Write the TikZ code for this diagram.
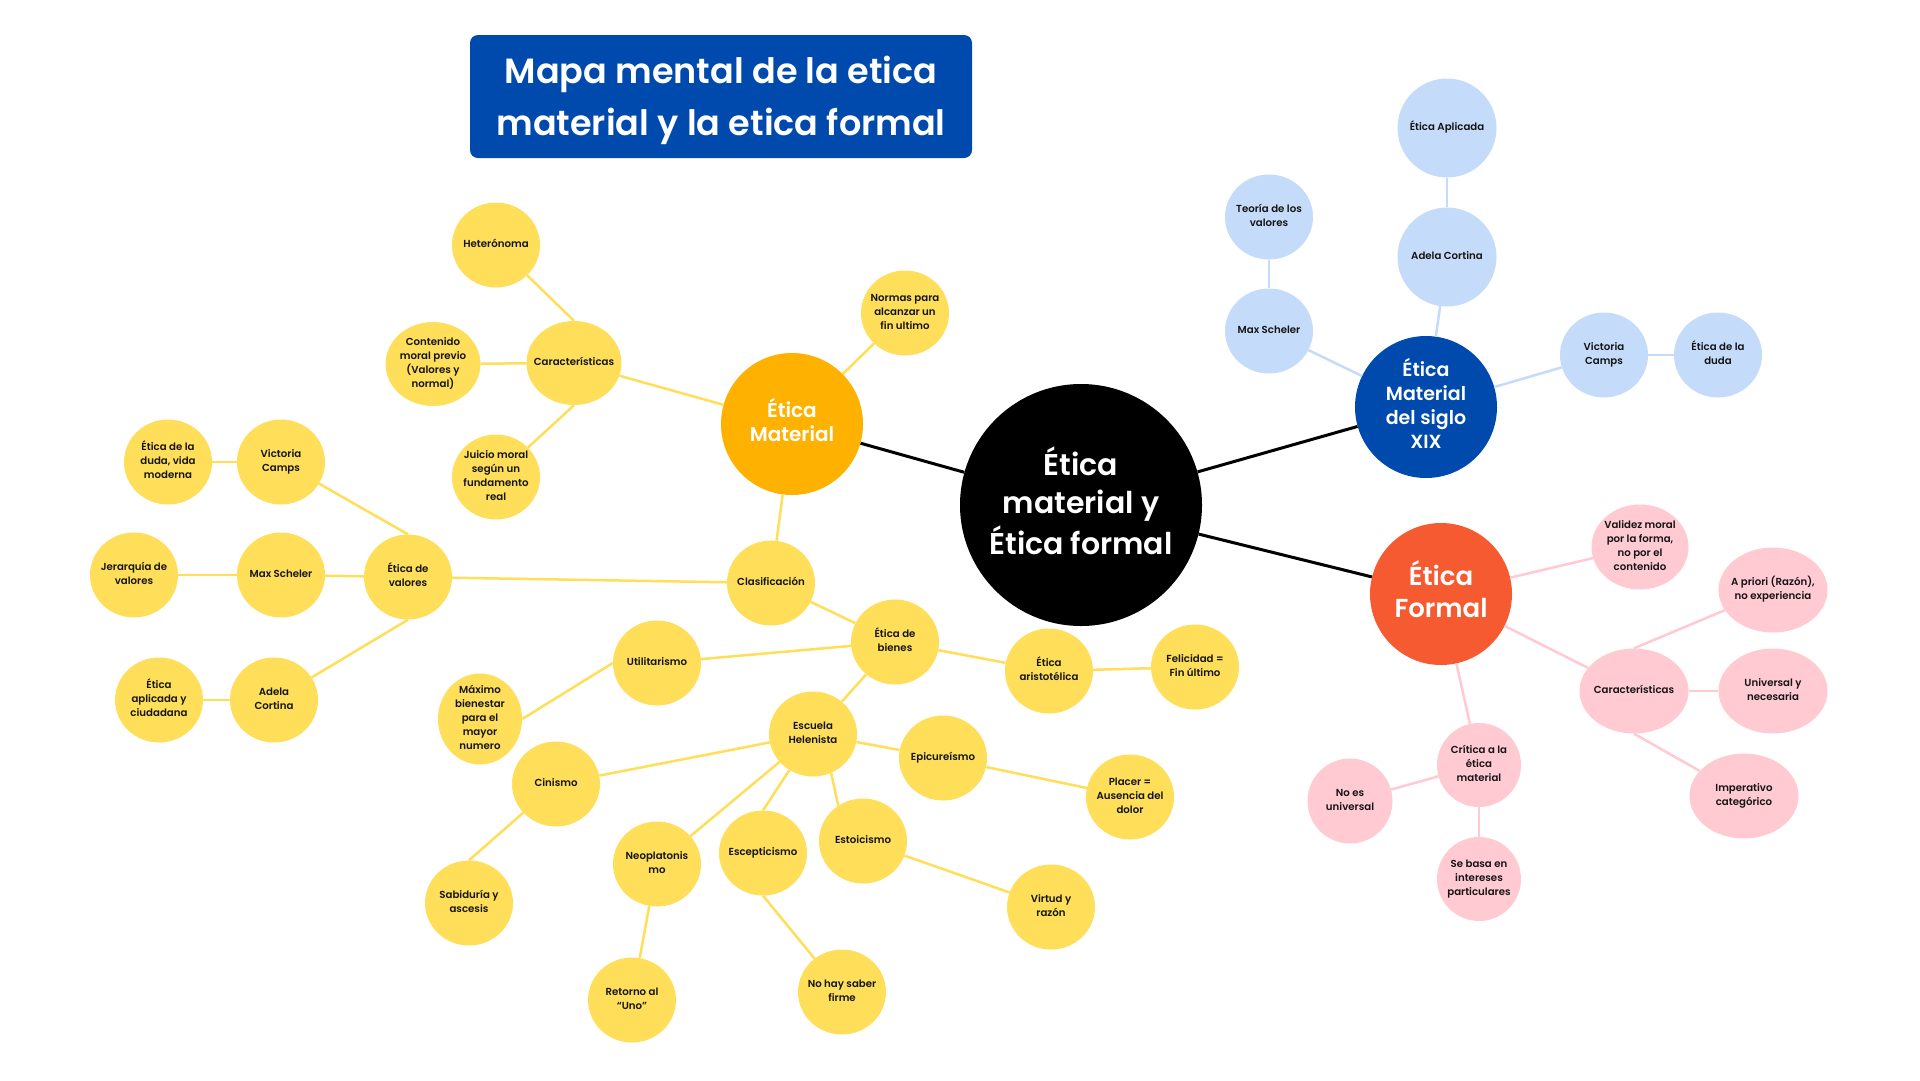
\documentclass[tikz,border=0pt]{standalone}
\usepackage{fontspec}
\setmainfont{Poppins}[BoldFont={Poppins SemiBold}]
\usetikzlibrary{shapes.geometric}
\definecolor{yel}{HTML}{FFDE59}
\definecolor{orm}{HTML}{FFB100}
\definecolor{rform}{HTML}{F55A31}
\definecolor{dblue}{HTML}{004AAD}
\definecolor{lblue}{HTML}{C4DCFA}
\definecolor{pnk}{HTML}{FFCAD2}
\definecolor{ink}{HTML}{151515}
\newcommand{\zt}[1]{\smash{\makebox[0pt]{\raisebox{-.25em}{\begin{tabular}{@{}c@{}}#1\end{tabular}}}}}
\tikzset{
  bub/.style={ellipse, inner sep=0pt, font=\fontsize{10.2}{14}\selectfont\bfseries, text=ink, minimum width=88pt, minimum height=85pt},
  ybub/.style={bub, fill=yel},
  bbub/.style={bub, fill=lblue},
  pbub/.style={bub, fill=pnk},
  bigc/.style={circle, inner sep=0pt, text=white, minimum size=142pt},
  yl/.style={draw=yel, line width=2.5pt},
  bl/.style={draw=lblue, line width=2.5pt},
  pl/.style={draw=pnk, line width=2.5pt},
  kl/.style={draw=black, line width=3pt}
}
\begin{document}
\begin{tikzpicture}[x=1pt,y=-1pt]
\useasboundingbox (0,0) rectangle (1920,1080);
\fill[white] (0,0) rectangle (1920,1080);

% title
\node[fill=dblue, rounded corners=8pt, minimum width=502pt, minimum height=123pt, inner sep=0pt, text=white, font=\fontsize{35}{52}\selectfont\bfseries] (title) at (721,96.5) {\zt{Mapa mental de la etica\\material y la etica formal}};

% main nodes
\node[circle, inner sep=0pt, fill=black, text=white, minimum size=242pt, font=\fontsize{30}{38}\selectfont\bfseries] (c) at (1081,505) {\zt{Ética\\material y\\Ética formal}};
\node[bigc, fill=orm, font=\fontsize{20}{24}\selectfont\bfseries] (em) at (792,424) {\zt{Ética\\Material}};
\node[bigc, fill=dblue, font=\fontsize{19}{24}\selectfont\bfseries] (xix) at (1426,407) {\zt{Ética\\Material\\del siglo\\XIX}};
\node[bigc, fill=rform, font=\fontsize{26}{32}\selectfont\bfseries] (ef) at (1441,594) {\zt{Ética\\Formal}};

% yellow
\node[ybub] (het) at (496,245) {\zt{Heterónoma}};
\node[ybub, minimum width=95pt, minimum height=84pt] (car) at (574,363) {\zt{Características}};
\node[ybub, minimum width=95pt, minimum height=84pt] (cont) at (433,364) {\zt{Contenido\\moral previo\\(Valores y\\normal)}};
\node[ybub] (jui) at (496,477) {\zt{Juicio moral\\según un\\fundamento\\real}};
\node[ybub] (nor) at (905,313) {\zt{Normas para\\alcanzar un\\fin ultimo}};
\node[ybub] (cla) at (771,583) {\zt{Clasificación}};
\node[ybub] (ev) at (408,577) {\zt{Ética de\\valores}};
\node[ybub] (vc) at (281,462) {\zt{Victoria\\Camps}};
\node[ybub] (edv) at (168,462) {\zt{Ética de la\\duda, vida\\moderna}};
\node[ybub] (ms) at (281,575) {\zt{Max Scheler}};
\node[ybub] (jer) at (134,575) {\zt{Jerarquía de\\valores}};
\node[ybub] (ac) at (274,700) {\zt{Adela\\Cortina}};
\node[ybub] (eac) at (159,700) {\zt{Ética\\aplicada y\\ciudadana}};
\node[ybub] (eb) at (895,642) {\zt{Ética de\\bienes}};
\node[ybub] (uti) at (657,663) {\zt{Utilitarismo}};
\node[ybub, minimum width=84pt, minimum height=91pt] (mbi) at (480,719) {\zt{Máximo\\bienestar\\para el\\mayor\\numero}};
\node[ybub] (ari) at (1049,671) {\zt{Ética\\aristotélica}};
\node[ybub] (fel) at (1195,667) {\zt{Felicidad =\\Fin último}};
\node[ybub] (eh) at (813,734) {\zt{Escuela\\Helenista}};
\node[ybub] (cin) at (556,784) {\zt{Cinismo}};
\node[ybub] (sab) at (469,903) {\zt{Sabiduría y\\ascesis}};
\node[ybub] (neo) at (657,864) {\zt{Neoplatonis\\mo}};
\node[ybub] (ret) at (632,1000) {\zt{Retorno al\\“Uno”}};
\node[ybub] (esc) at (763,853) {\zt{Escepticismo}};
\node[ybub] (noh) at (842,992) {\zt{No hay saber\\firme}};
\node[ybub] (est) at (863,841) {\zt{Estoicismo}};
\node[ybub] (vir) at (1051,907) {\zt{Virtud y\\razón}};
\node[ybub] (epi) at (943,758) {\zt{Epicureísmo}};
\node[ybub] (pla) at (1130,797) {\zt{Placer =\\Ausencia del\\dolor}};

% blue
\node[bbub, minimum width=99pt, minimum height=99pt] (bapl) at (1447,128) {\zt{Ética Aplicada}};
\node[bbub, minimum width=99pt, minimum height=99pt] (bac) at (1447,257) {\zt{Adela Cortina}};
\node[bbub] (bteo) at (1269,217) {\zt{Teoría de los\\valores}};
\node[bbub] (bms) at (1269,331) {\zt{Max Scheler}};
\node[bbub] (bvc) at (1604,355) {\zt{Victoria\\Camps}};
\node[bbub] (bdu) at (1718,355) {\zt{Ética de la\\duda}};

% pink
\node[pbub, minimum width=97pt] (val) at (1640,547) {\zt{Validez moral\\por la forma,\\no por el\\contenido}};
\node[pbub, minimum width=109pt] (apr) at (1773,590) {\zt{A priori (Razón),\\no experiencia}};
\node[pbub, minimum width=109pt] (pcar) at (1634,691) {\zt{Características}};
\node[pbub, minimum width=109pt] (uni) at (1773,691) {\zt{Universal y\\necesaria}};
\node[pbub, minimum width=109pt] (imp) at (1744,796) {\zt{Imperativo\\categórico}};
\node[pbub, minimum width=84pt, minimum height=84pt] (cri) at (1479,765) {\zt{Crítica a la\\ética\\material}};
\node[pbub, minimum width=85pt] (noe) at (1350,801) {\zt{No es\\universal}};
\node[pbub, minimum width=84pt, minimum height=84pt] (seb) at (1479,879) {\zt{Se basa en\\intereses\\particulares}};

% black connectors
\draw[kl] (c) -- (em);
\draw[kl] (c) -- (xix);
\draw[kl] (c) -- (ef);

% yellow connectors
\draw[yl] (em) -- (car);
\draw[yl] (em) -- (nor);
\draw[yl] (em) -- (cla);
\draw[yl] (car.north) -- (het);
\draw[yl] (car) -- (cont);
\draw[yl] (car.south) -- (jui);
\draw[yl] (cla) -- (ev);
\draw[yl] (ev.north) -- (vc);
\draw[yl] (ev) -- (ms);
\draw[yl] (ev.south) -- (ac);
\draw[yl] (vc) -- (edv);
\draw[yl] (ms) -- (jer);
\draw[yl] (ac) -- (eac);
\draw[yl] (cla) -- (eb);
\draw[yl] (eb) -- (uti);
\draw[yl] (uti.west) -- (mbi.east);
\draw[yl] (eb) -- (ari);
\draw[yl] (ari) -- (fel);
\draw[yl] (eb) -- (eh);
\draw[yl] (eh) -- (cin);
\draw[yl] (cin) -- (sab.north);
\draw[yl] (eh) -- (neo);
\draw[yl] (neo) -- (ret);
\draw[yl] (eh) -- (esc.north);
\draw[yl] (esc.south) -- (noh);
\draw[yl] (eh.-65) -- (est.125);
\draw[yl] (est) -- (vir);
\draw[yl] (eh) -- (epi);
\draw[yl] (epi) -- (pla);

% blue connectors
\draw[bl] (xix) -- (bms);
\draw[bl] (bms) -- (bteo);
\draw[bl] (xix) -- (bac);
\draw[bl] (bac) -- (bapl);
\draw[bl] (xix) -- (bvc);
\draw[bl] (bvc) -- (bdu);

% pink connectors
\draw[pl] (ef) -- (val);
\draw[pl] (ef) -- (pcar);
\draw[pl] (pcar.north) -- (apr);
\draw[pl] (pcar) -- (uni);
\draw[pl] (pcar.south) -- (imp);
\draw[pl] (ef) -- (cri);
\draw[pl] (cri) -- (noe);
\draw[pl] (cri) -- (seb);
\end{tikzpicture}
\end{document}
